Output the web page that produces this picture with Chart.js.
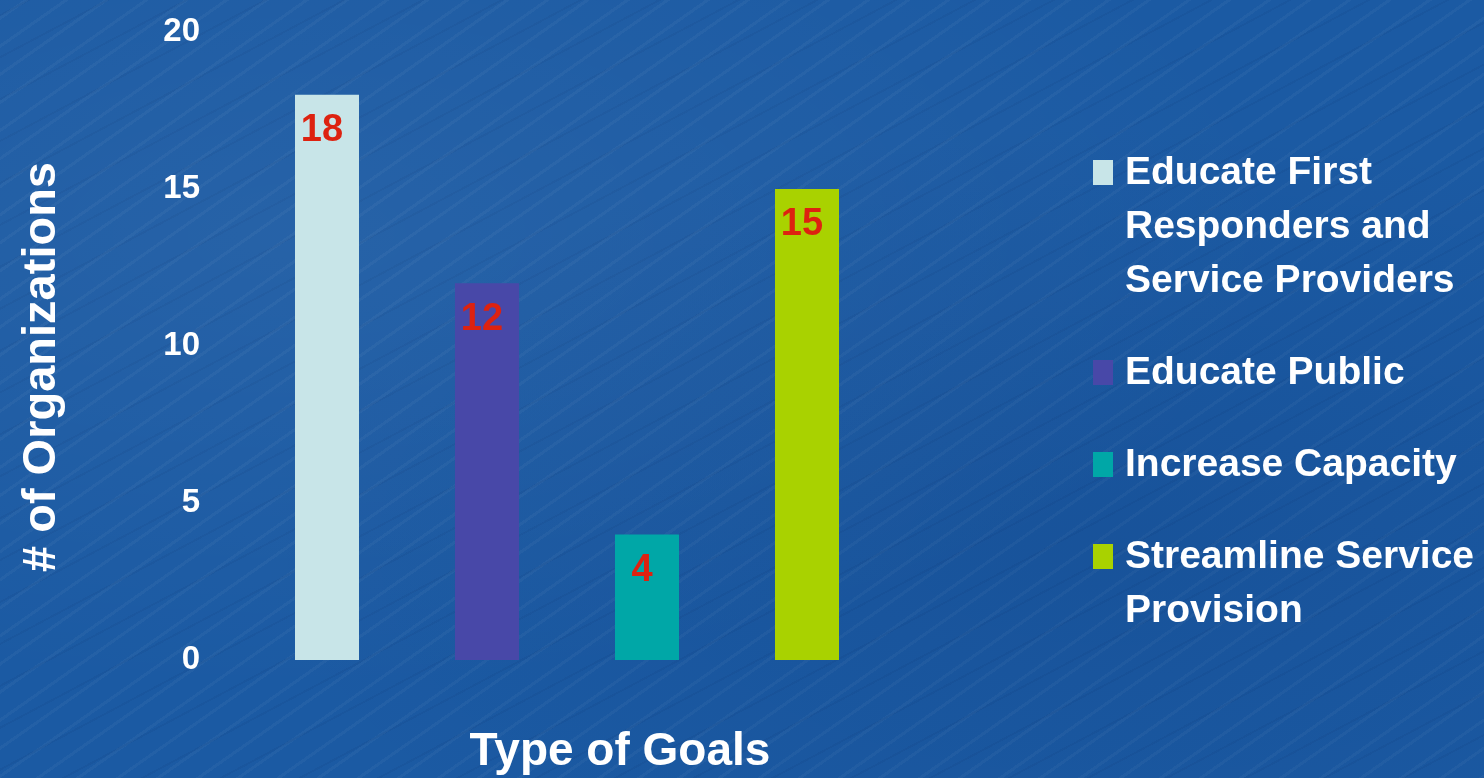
<!DOCTYPE html>
<html lang="en">
<head>
  <meta charset="UTF-8" />
  <title>Type of Goals</title>
  <script src="https://cdn.jsdelivr.net/npm/chart.js"></script>
  <style>
    html, body {
      margin: 0;
      height: 100%;
      overflow: hidden;
    }
    body {
      background-color: #1b5aa3;
      background-image:
        radial-gradient(ellipse at 20% 30%, rgba(255,255,255,0.05), rgba(255,255,255,0) 60%),
        radial-gradient(ellipse at 75% 70%, rgba(0,30,90,0.12), rgba(0,30,90,0) 55%),
        repeating-linear-gradient(-35deg, rgba(255,255,255,0.035) 0px, rgba(255,255,255,0.035) 3px, rgba(255,255,255,0) 3px, rgba(255,255,255,0) 23px),
        repeating-linear-gradient(-28deg, rgba(0,20,70,0.06) 0px, rgba(0,20,70,0.06) 2px, rgba(0,20,70,0) 2px, rgba(0,20,70,0) 37px);
    }
    .wrap {
      position: relative;
      width: 1484px;
      height: 778px;
    }
  </style>
</head>
<body>
  <div class="wrap"><canvas id="goalsChart" width="1484" height="778"></canvas></div>

  <script>
    const categories = ['Educate First Responders and Service Providers', 'Educate Public', 'Increase Capacity', 'Streamline Service Provision'];
    const orgCounts = [18, 12, 4, 15];
    const barColors = ['#c8e5e8', '#4848a8', '#00a7a7', '#a9d200'];
    const yTicks = [0, 5, 10, 15, 20];

    const FONT = '"Liberation Sans", Arial, sans-serif';

    // word wrap for the legend text
    function wrapText(ctx, text, maxWidth) {
      const words = text.split(' ');
      const lines = [];
      let line = '';
      words.forEach(w => {
        const test = line ? line + ' ' + w : w;
        if (ctx.measureText(test).width > maxWidth && line) {
          lines.push(line);
          line = w;
        } else {
          line = test;
        }
      });
      if (line) lines.push(line);
      return lines;
    }

    const extrasPlugin = {
      id: 'extras',
      afterDatasetsDraw(chart) {
        const ctx = chart.ctx;
        const area = chart.chartArea;
        const meta = chart.getDatasetMeta(0);

        // value labels inside the top of each bar
        ctx.save();
        ctx.fillStyle = '#dd2210';
        ctx.font = 'bold 38px ' + FONT;
        ctx.textAlign = 'center';
        ctx.textBaseline = 'top';
        meta.data.forEach((bar, i) => {
          ctx.fillText(String(orgCounts[i]), bar.x - 5, bar.y + 17);
        });
        ctx.restore();

        // axis titles
        ctx.save();
        ctx.fillStyle = '#ffffff';
        ctx.font = 'bold 46px ' + FONT;
        ctx.textAlign = 'center';
        ctx.textBaseline = 'alphabetic';
        ctx.fillText('Type of Goals', (area.left + area.right) / 2 + 53, 765);
        ctx.translate(55, 367);
        ctx.rotate(-Math.PI / 2);
        ctx.font = 'bold 47px ' + FONT;
        ctx.fillText('# of Organizations', 0, 0);
        ctx.restore();

        // legend
        ctx.save();
        ctx.font = 'bold 39px ' + FONT;
        ctx.textAlign = 'left';
        ctx.textBaseline = 'alphabetic';
        let y = 170;
        categories.forEach((name, i) => {
          const lines = wrapText(ctx, name, 360);
          ctx.fillStyle = barColors[i];
          ctx.fillRect(1093, y - 10, 20, 25);
          ctx.fillStyle = '#ffffff';
          lines.forEach((ln, j) => {
            ctx.fillText(ln, 1125, y + j * 54 + 14);
          });
          y += lines.length * 54 + 38;
        });
        ctx.restore();
      }
    };

    const ctx = document.getElementById('goalsChart').getContext('2d');
    new Chart(ctx, {
      type: 'bar',
      data: {
        labels: categories,
        datasets: [{
          data: orgCounts,
          backgroundColor: barColors,
          borderWidth: 0,
          barPercentage: 0.4,
          categoryPercentage: 1.0
        }]
      },
      options: {
        responsive: false,
        animation: false,
        layout: { padding: { top: 32, bottom: 118, left: 0, right: 597 } },
        plugins: {
          legend: { display: false },
          tooltip: { enabled: false }
        },
        scales: {
          x: { display: false },
          y: {
            min: yTicks[0],
            max: yTicks[yTicks.length - 1],
            afterBuildTicks(scale) {
              scale.ticks = yTicks.map(v => ({ value: v }));
            },
            afterFit(scale) {
              scale.width = 247;
              // tick padding would otherwise push the plot area down
              scale.paddingTop = 0;
              scale.paddingBottom = 0;
            },
            grid: { display: false, drawTicks: false },
            border: { display: false },
            ticks: {
              color: '#ffffff',
              padding: 47,
              font: { family: FONT, size: 33, weight: 'bold' }
            }
          }
        }
      },
      plugins: [extrasPlugin]
    });
  </script>
</body>
</html>
